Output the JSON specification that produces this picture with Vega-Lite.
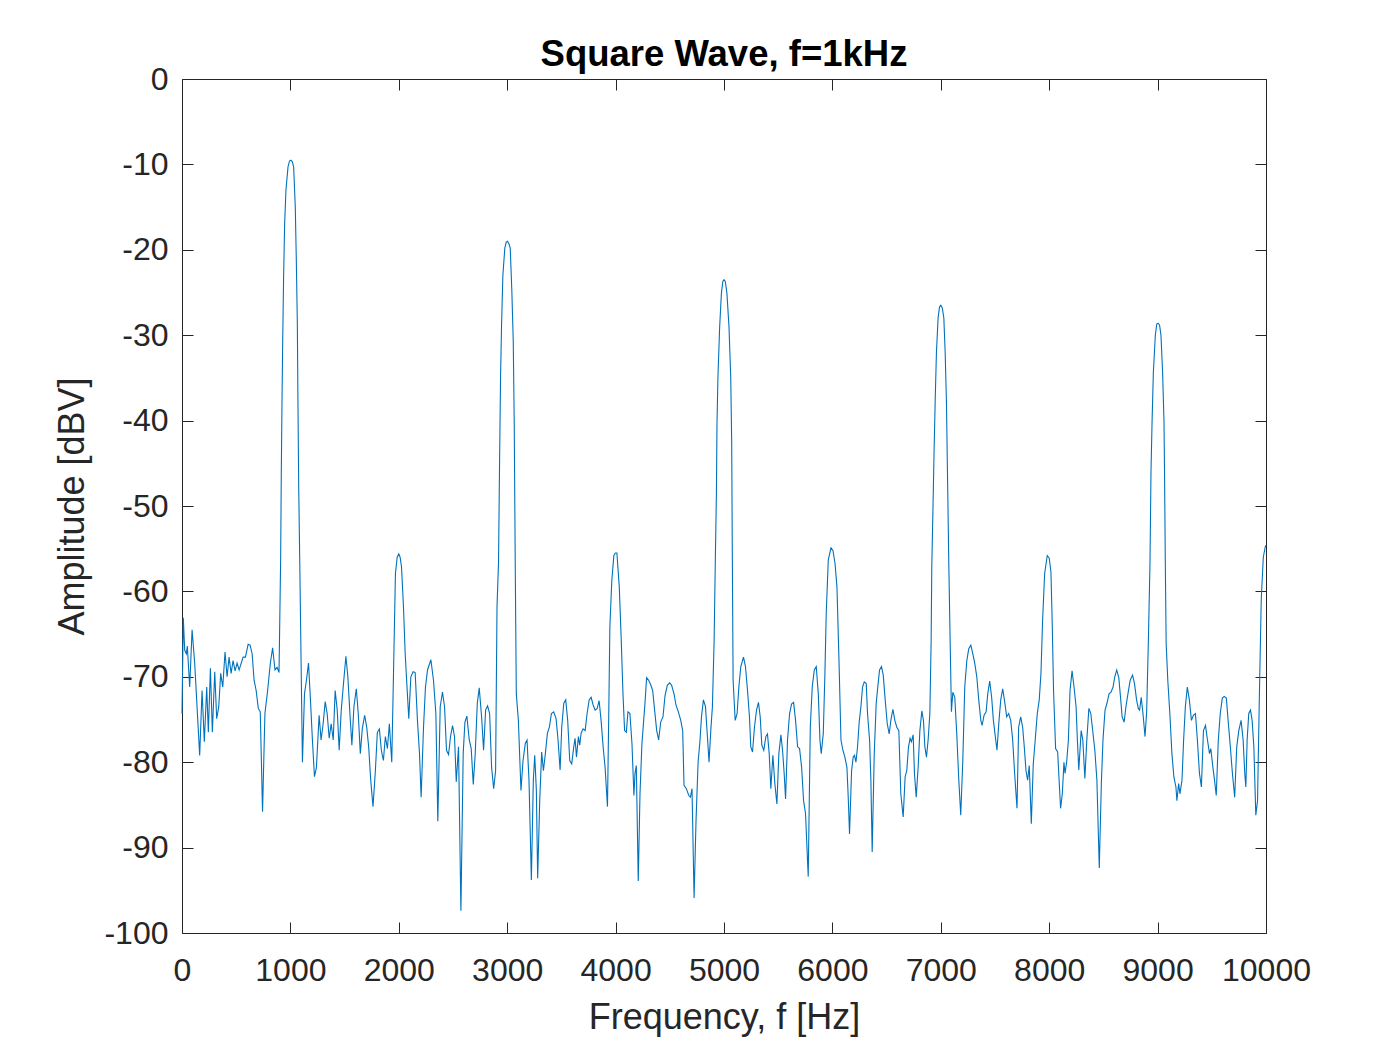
{
  "$schema": "https://vega.github.io/schema/vega-lite/v6.json",
  "width": 1084,
  "height": 854,
  "autosize": {"type": "none"},
  "padding": {"left": 182, "top": 79, "right": 134, "bottom": 117},
  "background": "white",
  "config": {
    "view": {"stroke": "#262626", "strokeWidth": 1},
    "font": "Liberation Sans",
    "axis": {"grid": false, "domain": false, "labelFont": "Liberation Sans", "titleFont": "Liberation Sans", "labelColor": "#262626", "titleColor": "#262626", "tickColor": "#262626", "titleFontWeight": "normal"}
  },
  "title": {"text": "Square Wave, f=1kHz", "fontSize": 36.5, "font": "Liberation Sans", "fontWeight": "bold", "color": "#000000", "offset": -10, "anchor": "middle"},
  "data": {"values": [
    {"f":0,"a":-74.3},{"f":12,"a":-63.1},{"f":25,"a":-66.9},{"f":40,"a":-67.3},{"f":49,"a":-66.4},{"f":71,"a":-71.2},{"f":93,"a":-64.5},{"f":117,"a":-68.4},{"f":163,"a":-79.2},{"f":185,"a":-71.6},{"f":206,"a":-77.6},{"f":228,"a":-71.2},{"f":243,"a":-76.5},{"f":262,"a":-69},{"f":280,"a":-76.5},{"f":302,"a":-69.4},{"f":320,"a":-74.9},{"f":339,"a":-73.5},{"f":357,"a":-69.6},{"f":376,"a":-71.2},{"f":397,"a":-67.1},{"f":416,"a":-70},{"f":434,"a":-67.7},{"f":453,"a":-69.6},{"f":471,"a":-68.1},{"f":490,"a":-69.3},{"f":508,"a":-68.4},{"f":527,"a":-69.2},{"f":564,"a":-67.7},{"f":585,"a":-67.7},{"f":610,"a":-66.2},{"f":628,"a":-66.3},{"f":647,"a":-67.3},{"f":665,"a":-70.4},{"f":684,"a":-71.6},{"f":704,"a":-73.7},{"f":722,"a":-74.1},{"f":743,"a":-85.8},{"f":765,"a":-74.3},{"f":790,"a":-71.6},{"f":815,"a":-68.4},{"f":836,"a":-66.6},{"f":858,"a":-69.2},{"f":877,"a":-68.9},{"f":895,"a":-69.5},
    {"f":910,"a":-56.3},{"f":916,"a":-46.2},{"f":922,"a":-38.4},{"f":929,"a":-30.6},{"f":938,"a":-22.7},{"f":947,"a":-16.9},{"f":959,"a":-13},{"f":978,"a":-10.3},{"f":992,"a":-9.6},{"f":1005,"a":-9.5},{"f":1018,"a":-9.7},{"f":1030,"a":-10.3},{"f":1045,"a":-15},{"f":1054,"a":-20.8},{"f":1064,"a":-28.6},{"f":1070,"a":-38.4},{"f":1077,"a":-48.1},{"f":1086,"a":-56.3},
    {"f":1111,"a":-80},{"f":1130,"a":-72},{"f":1148,"a":-70.4},{"f":1167,"a":-68.4},{"f":1185,"a":-72.7},{"f":1203,"a":-77.4},{"f":1222,"a":-81.7},{"f":1240,"a":-80.6},{"f":1265,"a":-74.5},{"f":1283,"a":-77.4},{"f":1302,"a":-75.5},{"f":1321,"a":-72.9},{"f":1339,"a":-74.3},{"f":1358,"a":-77.2},{"f":1376,"a":-75.5},{"f":1395,"a":-77.4},{"f":1413,"a":-71.6},{"f":1432,"a":-73.9},{"f":1450,"a":-78.6},{"f":1469,"a":-73.9},{"f":1487,"a":-71.2},{"f":1512,"a":-67.6},{"f":1530,"a":-70},{"f":1549,"a":-74.3},{"f":1567,"a":-78},{"f":1586,"a":-73.5},{"f":1608,"a":-71.4},{"f":1626,"a":-74.3},{"f":1645,"a":-79},{"f":1663,"a":-76.1},{"f":1685,"a":-74.5},{"f":1704,"a":-75.9},{"f":1722,"a":-78.2},{"f":1741,"a":-82.1},{"f":1762,"a":-85.2},{"f":1784,"a":-81},{"f":1802,"a":-76.5},{"f":1821,"a":-76.1},{"f":1839,"a":-78.6},{"f":1858,"a":-79.8},{"f":1876,"a":-77},{"f":1895,"a":-78.4},{"f":1913,"a":-75.5},{"f":1935,"a":-80},{"f":1954,"a":-67.7},{"f":1969,"a":-57.9},{"f":1985,"a":-56},{"f":2000,"a":-55.6},{"f":2012,"a":-56},{"f":2025,"a":-57.1},{"f":2043,"a":-61.8},{"f":2059,"a":-67.3},{"f":2074,"a":-70.8},{"f":2092,"a":-74.9},{"f":2111,"a":-70},{"f":2132,"a":-69.4},{"f":2151,"a":-69.5},{"f":2172,"a":-75.1},{"f":2191,"a":-79},{"f":2206,"a":-84.1},{"f":2228,"a":-75.9},{"f":2246,"a":-71.2},{"f":2265,"a":-69.2},{"f":2296,"a":-68},{"f":2320,"a":-70.4},{"f":2342,"a":-74.3},{"f":2360,"a":-86.9},{"f":2382,"a":-73.5},{"f":2403,"a":-71.8},{"f":2422,"a":-73.5},{"f":2440,"a":-78.6},{"f":2459,"a":-79.1},{"f":2477,"a":-77},{"f":2496,"a":-75.7},{"f":2514,"a":-77},{"f":2530,"a":-82.3},{"f":2551,"a":-78.2},{"f":2573,"a":-97.4},{"f":2594,"a":-79},{"f":2610,"a":-75.3},{"f":2628,"a":-74.6},{"f":2650,"a":-77.4},{"f":2668,"a":-78.4},{"f":2687,"a":-82.6},{"f":2705,"a":-79},{"f":2724,"a":-73.1},{"f":2742,"a":-71.3},{"f":2764,"a":-74.7},{"f":2782,"a":-78.6},{"f":2801,"a":-73.9},{"f":2819,"a":-73.4},{"f":2838,"a":-74.3},{"f":2856,"a":-80.6},{"f":2875,"a":-83.1},{"f":2893,"a":-81},{"f":2906,"a":-61.8},
    {"f":2920,"a":-56.6},{"f":2930,"a":-44.4},{"f":2939,"a":-34.7},{"f":2948,"a":-28.8},{"f":2960,"a":-23},{"f":2978,"a":-19.8},{"f":2991,"a":-19.1},{"f":3003,"a":-19},{"f":3016,"a":-19.3},{"f":3028,"a":-19.8},{"f":3043,"a":-24.9},{"f":3056,"a":-30.8},{"f":3065,"a":-40.5},{"f":3074,"a":-56.6},
    {"f":3084,"a":-72},{"f":3103,"a":-75.1},{"f":3127,"a":-83.3},{"f":3146,"a":-79.8},{"f":3167,"a":-77.8},{"f":3183,"a":-77.4},{"f":3201,"a":-82.1},{"f":3223,"a":-93.8},{"f":3241,"a":-82.1},{"f":3254,"a":-79.2},{"f":3269,"a":-83.3},{"f":3281,"a":-93.6},{"f":3300,"a":-84.5},{"f":3318,"a":-78.8},{"f":3334,"a":-81},{"f":3352,"a":-79},{"f":3371,"a":-76.6},{"f":3389,"a":-75.9},{"f":3408,"a":-74.3},{"f":3429,"a":-74.1},{"f":3451,"a":-74.9},{"f":3469,"a":-77.4},{"f":3488,"a":-80.9},{"f":3503,"a":-75.9},{"f":3522,"a":-73.1},{"f":3540,"a":-72.7},{"f":3558,"a":-75.1},{"f":3577,"a":-79.8},{"f":3595,"a":-80.2},{"f":3614,"a":-78.2},{"f":3626,"a":-77.2},{"f":3639,"a":-79.4},{"f":3657,"a":-77},{"f":3669,"a":-78},{"f":3682,"a":-76.6},{"f":3700,"a":-76.1},{"f":3719,"a":-76.3},{"f":3737,"a":-74.3},{"f":3756,"a":-72.7},{"f":3774,"a":-72.4},{"f":3793,"a":-73.3},{"f":3811,"a":-73.9},{"f":3830,"a":-73.7},{"f":3848,"a":-72.8},{"f":3866,"a":-75.1},{"f":3885,"a":-78.2},{"f":3903,"a":-80.6},{"f":3925,"a":-85.2},{"f":3937,"a":-74.3},{"f":3947,"a":-64.2},{"f":3965,"a":-58.7},{"f":3984,"a":-55.8},{"f":3997,"a":-55.5},{"f":4012,"a":-55.5},{"f":4034,"a":-59.5},{"f":4052,"a":-65.7},{"f":4068,"a":-72},{"f":4083,"a":-76.3},{"f":4099,"a":-76.5},{"f":4114,"a":-74.1},{"f":4132,"a":-74.3},{"f":4151,"a":-77.8},{"f":4169,"a":-83.9},{"f":4179,"a":-81.3},{"f":4191,"a":-80.4},{"f":4209,"a":-93.9},{"f":4225,"a":-83.7},{"f":4243,"a":-77.8},{"f":4259,"a":-75.1},{"f":4271,"a":-73.1},{"f":4286,"a":-70.1},{"f":4305,"a":-70.4},{"f":4323,"a":-70.9},{"f":4342,"a":-71.6},{"f":4360,"a":-73.9},{"f":4379,"a":-76.3},{"f":4397,"a":-77.4},{"f":4416,"a":-75.3},{"f":4437,"a":-74.7},{"f":4456,"a":-72.2},{"f":4477,"a":-71},{"f":4499,"a":-70.7},{"f":4517,"a":-71},{"f":4539,"a":-72},{"f":4557,"a":-73.3},{"f":4579,"a":-74.1},{"f":4601,"a":-75.1},{"f":4619,"a":-76.3},{"f":4631,"a":-82.7},{"f":4653,"a":-83.1},{"f":4675,"a":-83.9},{"f":4690,"a":-84.1},{"f":4705,"a":-83.1},{"f":4724,"a":-95.9},{"f":4742,"a":-86.8},{"f":4761,"a":-80},{"f":4779,"a":-77.4},{"f":4792,"a":-74.7},{"f":4810,"a":-72.7},{"f":4829,"a":-73.5},{"f":4847,"a":-77},{"f":4862,"a":-80},{"f":4878,"a":-76.3},{"f":4893,"a":-73.5},{"f":4909,"a":-65.7},
    {"f":4920,"a":-56.3},{"f":4930,"a":-48.5},{"f":4935,"a":-40.7},{"f":4944,"a":-34.9},{"f":4960,"a":-29},{"f":4976,"a":-25.1},{"f":4989,"a":-23.7},{"f":5000,"a":-23.5},{"f":5012,"a":-23.7},{"f":5027,"a":-25.1},{"f":5046,"a":-29},{"f":5062,"a":-34.9},{"f":5071,"a":-42.6},{"f":5077,"a":-56.3},
    {"f":5084,"a":-70.4},{"f":5103,"a":-75.1},{"f":5121,"a":-74.3},{"f":5137,"a":-71.2},{"f":5155,"a":-68.8},{"f":5180,"a":-67.7},{"f":5198,"a":-68.8},{"f":5217,"a":-71.6},{"f":5235,"a":-74.7},{"f":5247,"a":-78.2},{"f":5263,"a":-78.8},{"f":5281,"a":-75.9},{"f":5300,"a":-73.9},{"f":5318,"a":-73},{"f":5334,"a":-74.7},{"f":5349,"a":-78},{"f":5367,"a":-78.6},{"f":5386,"a":-77},{"f":5401,"a":-76.7},{"f":5417,"a":-79},{"f":5432,"a":-83.1},{"f":5451,"a":-79.2},{"f":5469,"a":-82.5},{"f":5488,"a":-84.9},{"f":5506,"a":-79},{"f":5525,"a":-76.8},{"f":5540,"a":-78.6},{"f":5555,"a":-81.3},{"f":5568,"a":-84.3},{"f":5586,"a":-77.4},{"f":5605,"a":-74.3},{"f":5623,"a":-73.2},{"f":5642,"a":-73},{"f":5660,"a":-75.1},{"f":5679,"a":-78.2},{"f":5697,"a":-78.4},{"f":5716,"a":-80.6},{"f":5734,"a":-84.5},{"f":5752,"a":-86},{"f":5777,"a":-93.4},{"f":5796,"a":-75.9},{"f":5814,"a":-71.2},{"f":5833,"a":-69.2},{"f":5851,"a":-68.8},{"f":5870,"a":-72},{"f":5885,"a":-77.4},{"f":5897,"a":-79},{"f":5916,"a":-76.6},{"f":5931,"a":-69.6},{"f":5943,"a":-62.6},{"f":5962,"a":-56.3},{"f":5987,"a":-54.9},{"f":6005,"a":-55.2},{"f":6024,"a":-56.7},{"f":6042,"a":-59.5},{"f":6060,"a":-67.7},{"f":6079,"a":-77.4},{"f":6097,"a":-78.6},{"f":6115,"a":-79.4},{"f":6134,"a":-80.6},{"f":6146,"a":-84.1},{"f":6158,"a":-88.4},{"f":6177,"a":-81},{"f":6192,"a":-79.4},{"f":6204,"a":-79.2},{"f":6217,"a":-80},{"f":6232,"a":-78.2},{"f":6247,"a":-75.3},{"f":6263,"a":-73.5},{"f":6278,"a":-71.2},{"f":6294,"a":-70.6},{"f":6312,"a":-70.8},{"f":6324,"a":-74.3},{"f":6343,"a":-77.4},{"f":6355,"a":-82.1},{"f":6367,"a":-90.5},{"f":6386,"a":-79},{"f":6404,"a":-73.1},{"f":6420,"a":-71},{"f":6435,"a":-69.2},{"f":6453,"a":-68.8},{"f":6469,"a":-69.8},{"f":6487,"a":-72.7},{"f":6506,"a":-75.5},{"f":6524,"a":-76.7},{"f":6539,"a":-75.1},{"f":6558,"a":-73.8},{"f":6576,"a":-75.1},{"f":6594,"a":-75.9},{"f":6613,"a":-76.3},{"f":6631,"a":-83.7},{"f":6653,"a":-86.4},{"f":6671,"a":-81.7},{"f":6686,"a":-81},{"f":6702,"a":-78.2},{"f":6717,"a":-77.2},{"f":6729,"a":-77.6},{"f":6745,"a":-76.8},{"f":6757,"a":-81.3},{"f":6773,"a":-84.1},{"f":6791,"a":-80.6},{"f":6807,"a":-76.3},{"f":6825,"a":-74},{"f":6840,"a":-75.1},{"f":6853,"a":-78.2},{"f":6868,"a":-79.4},{"f":6883,"a":-77.4},{"f":6899,"a":-74.3},{"f":6911,"a":-65.7},
    {"f":6917,"a":-56.9},{"f":6929,"a":-49.5},{"f":6938,"a":-43.6},{"f":6948,"a":-37.8},{"f":6960,"a":-31.9},{"f":6975,"a":-28},{"f":6988,"a":-26.7},{"f":7000,"a":-26.5},{"f":7014,"a":-26.8},{"f":7028,"a":-28},{"f":7040,"a":-31.9},{"f":7052,"a":-37.8},{"f":7061,"a":-45.6},{"f":7074,"a":-56.9},
    {"f":7086,"a":-65.7},{"f":7098,"a":-74.1},{"f":7111,"a":-71.8},{"f":7129,"a":-72.4},{"f":7147,"a":-76.6},{"f":7166,"a":-82.1},{"f":7184,"a":-86.2},{"f":7203,"a":-79.8},{"f":7221,"a":-71.2},{"f":7240,"a":-68.1},{"f":7258,"a":-66.7},{"f":7277,"a":-66.3},{"f":7295,"a":-67.3},{"f":7313,"a":-68.4},{"f":7332,"a":-70},{"f":7350,"a":-72.7},{"f":7369,"a":-75.1},{"f":7381,"a":-75.7},{"f":7399,"a":-74.5},{"f":7418,"a":-74.1},{"f":7433,"a":-72},{"f":7451,"a":-70.5},{"f":7469,"a":-72.4},{"f":7485,"a":-75.1},{"f":7503,"a":-77},{"f":7518,"a":-78.6},{"f":7537,"a":-75.1},{"f":7553,"a":-72.7},{"f":7571,"a":-71.4},{"f":7589,"a":-72.9},{"f":7608,"a":-74.7},{"f":7626,"a":-74.3},{"f":7645,"a":-75.1},{"f":7663,"a":-77.4},{"f":7681,"a":-81.3},{"f":7703,"a":-85.4},{"f":7718,"a":-75.9},{"f":7737,"a":-74.7},{"f":7755,"a":-75.9},{"f":7770,"a":-78.2},{"f":7786,"a":-81},{"f":7801,"a":-82.1},{"f":7816,"a":-80.4},{"f":7835,"a":-87.2},{"f":7853,"a":-80.2},{"f":7871,"a":-77.4},{"f":7890,"a":-74.3},{"f":7908,"a":-72.7},{"f":7924,"a":-69.6},{"f":7939,"a":-63.4},{"f":7958,"a":-57.9},{"f":7982,"a":-55.8},{"f":8000,"a":-56.1},{"f":8016,"a":-57.7},{"f":8028,"a":-63.8},{"f":8040,"a":-71.6},{"f":8059,"a":-78.4},{"f":8078,"a":-78.8},{"f":8093,"a":-82.5},{"f":8105,"a":-85.4},{"f":8121,"a":-83.7},{"f":8136,"a":-80},{"f":8146,"a":-81.3},{"f":8161,"a":-80},{"f":8177,"a":-77.4},{"f":8192,"a":-71.6},{"f":8211,"a":-69.3},{"f":8229,"a":-71.2},{"f":8248,"a":-73.5},{"f":8260,"a":-77.4},{"f":8273,"a":-80.9},{"f":8295,"a":-76.3},{"f":8310,"a":-77.4},{"f":8329,"a":-81.9},{"f":8347,"a":-77.4},{"f":8366,"a":-73.7},{"f":8384,"a":-74.3},{"f":8403,"a":-76.5},{"f":8421,"a":-78.6},{"f":8440,"a":-82.1},{"f":8462,"a":-92.4},{"f":8481,"a":-82.5},{"f":8496,"a":-77.4},{"f":8515,"a":-73.9},{"f":8533,"a":-73.1},{"f":8552,"a":-72},{"f":8570,"a":-71.8},{"f":8589,"a":-71.2},{"f":8605,"a":-70},{"f":8623,"a":-69.2},{"f":8642,"a":-70.1},{"f":8660,"a":-72.7},{"f":8673,"a":-74.7},{"f":8691,"a":-75.3},{"f":8710,"a":-73.3},{"f":8729,"a":-71.8},{"f":8747,"a":-70.4},{"f":8769,"a":-69.8},{"f":8787,"a":-70.8},{"f":8806,"a":-72.7},{"f":8822,"a":-73.7},{"f":8834,"a":-73.9},{"f":8849,"a":-72.4},{"f":8865,"a":-74.3},{"f":8884,"a":-77},{"f":8899,"a":-74.1},{"f":8915,"a":-65.7},
    {"f":8930,"a":-56.5},{"f":8939,"a":-46},{"f":8949,"a":-40.1},{"f":8961,"a":-34.3},{"f":8979,"a":-30},{"f":8992,"a":-28.7},{"f":9004,"a":-28.6},{"f":9018,"a":-28.8},{"f":9031,"a":-30},{"f":9046,"a":-34.3},{"f":9059,"a":-40.1},{"f":9064,"a":-46},{"f":9071,"a":-56.5},
    {"f":9079,"a":-66.1},{"f":9094,"a":-70.4},{"f":9113,"a":-74.3},{"f":9132,"a":-79},{"f":9150,"a":-81.7},{"f":9169,"a":-82.9},{"f":9178,"a":-84.5},{"f":9194,"a":-82.5},{"f":9206,"a":-83.7},{"f":9225,"a":-82.1},{"f":9240,"a":-77.4},{"f":9256,"a":-73.5},{"f":9274,"a":-71.2},{"f":9293,"a":-72.7},{"f":9312,"a":-75.1},{"f":9330,"a":-74.5},{"f":9349,"a":-74.3},{"f":9367,"a":-77.4},{"f":9386,"a":-81.3},{"f":9404,"a":-82.9},{"f":9423,"a":-76.3},{"f":9442,"a":-75.7},{"f":9460,"a":-77.4},{"f":9479,"a":-79},{"f":9491,"a":-78.4},{"f":9510,"a":-80.6},{"f":9525,"a":-82.1},{"f":9541,"a":-83.9},{"f":9560,"a":-77.4},{"f":9578,"a":-74.3},{"f":9597,"a":-72.5},{"f":9615,"a":-72.3},{"f":9634,"a":-72.5},{"f":9653,"a":-75.5},{"f":9671,"a":-78.2},{"f":9690,"a":-81.3},{"f":9711,"a":-84.1},{"f":9730,"a":-78.2},{"f":9749,"a":-76.3},{"f":9770,"a":-75.1},{"f":9789,"a":-77.4},{"f":9804,"a":-81.3},{"f":9814,"a":-82.9},{"f":9826,"a":-77.4},{"f":9841,"a":-74.3},{"f":9857,"a":-73.9},{"f":9872,"a":-75.1},{"f":9888,"a":-78.2},{"f":9906,"a":-86.2},{"f":9922,"a":-84.5},{"f":9937,"a":-73.5},{"f":9956,"a":-61},{"f":9975,"a":-56},{"f":9993,"a":-54.8},{"f":10000,"a":-54.6}
  ]},
  "resolve": {"axis": {"x": "independent", "y": "independent"}},
  "layer": [
    {
      "mark": {"type": "line", "color": "#0072BD", "strokeWidth": 1.1, "interpolate": "linear"},
      "encoding": {
        "x": {"field": "f", "type": "quantitative", "scale": {"domain": [0, 10000], "nice": false, "zero": false},
          "axis": {"values": [0,1000,2000,3000,4000,5000,6000,7000,8000,9000,10000], "format": "d", "tickSize": -11, "labelFontSize": 32, "labelPadding": 33, "title": "Frequency, f [Hz]", "titleFontSize": 36, "titlePadding": 14, "labelFlush": false}},
        "y": {"field": "a", "type": "quantitative", "scale": {"domain": [-100, 0], "nice": false, "zero": false},
          "axis": {"values": [-100,-90,-80,-70,-60,-50,-40,-30,-20,-10,0], "labelExpr": "'' + datum.value", "tickSize": -11, "labelFontSize": 32, "labelPadding": 25, "title": "Amplitude [dBV]", "titleFontSize": 36, "titlePadding": 12, "labelFlush": false}}
      }
    },
    {
      "mark": {"type": "line", "opacity": 0},
      "encoding": {
        "x": {"field": "f", "type": "quantitative", "axis": {"orient": "top", "values": [0,1000,2000,3000,4000,5000,6000,7000,8000,9000,10000], "labels": false, "title": null, "tickSize": -11}},
        "y": {"field": "a", "type": "quantitative", "axis": {"orient": "right", "values": [-100,-90,-80,-70,-60,-50,-40,-30,-20,-10,0], "labels": false, "title": null, "tickSize": -11}}
      }
    }
  ]
}
